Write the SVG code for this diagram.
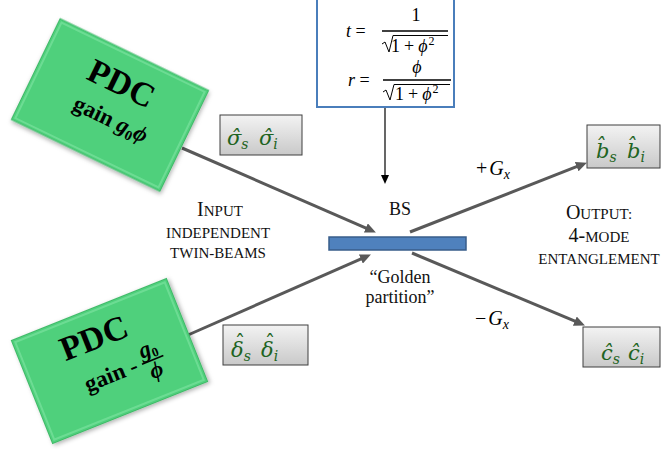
<svg xmlns="http://www.w3.org/2000/svg" width="662" height="449" viewBox="0 0 662 449">
<defs>
<style>
.pdc{fill:#4fd07c;stroke:#3fb868;stroke-width:1}
.pdcT{font-family:"Liberation Serif",serif;font-weight:bold;font-size:34px;fill:#000}
.pdcG{font-family:"Liberation Serif",serif;font-weight:bold;font-size:23px;fill:#000}
.lbl{fill:url(#gray);stroke:#3f3f3f;stroke-width:1}
.op{font-family:"DejaVu Serif",serif;font-style:italic;font-size:21px;fill:#1e6422}
.sub{font-size:14px}
.txt{font-family:"Liberation Serif",serif;font-size:18px;fill:#111}
.sc{font-family:"Liberation Serif",serif;font-size:15px;fill:#111}
.m{font-family:"Liberation Serif","DejaVu Serif",serif;font-size:18px;fill:#000}
.g{font-family:"Liberation Serif","DejaVu Serif",serif;font-size:20px;fill:#000}
.conn{stroke:#595959;stroke-width:3;fill:none}
</style>
<linearGradient id="gray" x1="0" y1="0" x2="0" y2="1">
<stop offset="0" stop-color="#f3f3f3"/>
<stop offset="1" stop-color="#c9c9c9"/>
</linearGradient>
<filter id="sh" x="-20%" y="-20%" width="140%" height="140%">
<feDropShadow dx="1.5" dy="2" stdDeviation="2" flood-color="#000" flood-opacity="0.3"/>
</filter>
<marker id="ah" markerUnits="userSpaceOnUse" markerWidth="11" markerHeight="10" viewBox="0 0 11 10" refX="4" refY="5" orient="auto">
<path d="M0,0 L11,5 L0,10 z" fill="#595959"/>
</marker>
<marker id="ah2" markerUnits="userSpaceOnUse" markerWidth="9" markerHeight="8" viewBox="0 0 9 8" refX="3" refY="4" orient="auto">
<path d="M0,0 L9,4 L0,8 z" fill="#000"/>
</marker>
</defs>
<rect width="662" height="449" fill="#fff"/>

<g id="connectors">
<line class="conn" x1="182" y1="148" x2="369.5" y2="229.6" marker-end="url(#ah)"/>
<line class="conn" x1="188" y1="335" x2="364.5" y2="257.4" marker-end="url(#ah)"/>
<line class="conn" x1="410" y1="232" x2="580.4" y2="165.2" marker-end="url(#ah)"/>
<line class="conn" x1="412" y1="253" x2="578.5" y2="322.7" marker-end="url(#ah)"/>
<line x1="385" y1="108" x2="385" y2="178" stroke="#000" stroke-width="1.2" marker-end="url(#ah2)"/>
</g>

<g id="pdc-top" transform="translate(110,105) rotate(25.8)">
<rect class="pdc" x="-82.5" y="-56" width="165" height="112" filter="url(#sh)"/>
<rect x="-79.5" y="-53" width="159" height="106" fill="none" stroke="#80e4a3" stroke-width="2" opacity="0.6"/>
<text class="pdcT" x="1" y="-13" text-anchor="middle">PDC</text>
<text class="pdcG" x="-33" y="20">gain <tspan font-style="italic">g</tspan><tspan font-size="14" dy="4">0</tspan><tspan font-style="italic" dy="-4">ϕ</tspan></text>
</g>

<g id="pdc-bottom" transform="translate(109.5,361) rotate(-21.8)">
<rect class="pdc" x="-83.5" y="-55.5" width="167" height="111" filter="url(#sh)"/>
<rect x="-80.5" y="-52.5" width="161" height="105" fill="none" stroke="#80e4a3" stroke-width="2" opacity="0.6"/>
<text class="pdcT" x="-6" y="-16" text-anchor="middle">PDC</text>
<text class="pdcG" x="24" y="21" text-anchor="end">gain -</text>
<line x1="29" y1="15" x2="52" y2="15" stroke="#000" stroke-width="1.6"/>
<text class="pdcG" x="40" y="10" text-anchor="middle"><tspan font-style="italic">g</tspan><tspan font-size="13" dy="3">0</tspan></text>
<text class="pdcG" x="40" y="33" text-anchor="middle"><tspan font-style="italic">ϕ</tspan></text>
</g>

<g id="formula">
<rect x="317" y="-3" width="137" height="110" fill="#fff" stroke="#4a7ebb" stroke-width="2"/>
<text class="m" x="346" y="37"><tspan font-style="italic">t</tspan> =</text>
<line x1="382" y1="31" x2="448" y2="31" stroke="#000" stroke-width="1.3"/>
<text class="m" x="416" y="21" text-anchor="middle">1</text>
<path d="M382,44 L385,42 L389,52 L393,35.5 L448,35.5" fill="none" stroke="#000" stroke-width="1"/>
<text class="m" x="391" y="52">1<tspan dx="4">+</tspan><tspan dx="4" font-style="italic">ϕ</tspan><tspan font-size="12" dx="1" dy="-7">2</tspan></text>
<text class="m" x="348" y="86"><tspan font-style="italic">r</tspan> =</text>
<line x1="383" y1="80" x2="451" y2="80" stroke="#000" stroke-width="1.3"/>
<text class="m" x="417" y="73" text-anchor="middle"><tspan font-style="italic">ϕ</tspan></text>
<path d="M383,92 L386,90 L390,100 L394,84.5 L450,84.5" fill="none" stroke="#000" stroke-width="1"/>
<text class="m" x="395" y="100">1<tspan dx="4">+</tspan><tspan dx="4" font-style="italic">ϕ</tspan><tspan font-size="12" dx="1" dy="-7">2</tspan></text>
</g>

<g id="sigma">
<rect class="lbl" x="220" y="115" width="82" height="40"/>
<text class="op" x="227" y="145">σ̂<tspan class="sub" dy="4">s</tspan></text>
<text class="op" x="259" y="145">σ̂<tspan class="sub" dy="4">i</tspan></text>
</g>

<g id="delta">
<rect class="lbl" x="223" y="325" width="85" height="40"/>
<text class="op" x="231" y="357">δ<tspan class="sub" dy="4">s</tspan><tspan x="261" y="357">δ</tspan><tspan class="sub" dy="4">i</tspan><tspan x="240" y="350" text-anchor="middle" font-style="normal">ˆ</tspan><tspan x="270" y="350" text-anchor="middle" font-style="normal">ˆ</tspan></text>
</g>

<g id="bhat">
<rect class="lbl" x="587" y="125" width="73" height="43"/>
<text class="op" x="596" y="158">b̂<tspan class="sub" dy="4">s</tspan></text>
<text class="op" x="627" y="158">b̂<tspan class="sub" dy="4">i</tspan></text>
</g>

<g id="chat">
<rect class="lbl" x="583" y="327" width="77" height="40"/>
<text class="op" x="601" y="360">ĉ<tspan class="sub" dy="4">s</tspan></text>
<text class="op" x="628" y="360">ĉ<tspan class="sub" dy="4">i</tspan></text>
</g>

<g id="bs">
<rect x="329" y="237" width="137" height="13" fill="#4f81bd" stroke="#385d8a" stroke-width="1.5"/>
<text class="txt" x="400" y="215" text-anchor="middle">BS</text>
<text class="txt" x="400" y="283" text-anchor="middle">“Golden</text>
<text class="txt" x="400" y="303" text-anchor="middle">partition”</text>
</g>

<g id="input-label">
<text class="sc" x="220" y="216" text-anchor="middle"><tspan font-size="20">I</tspan>NPUT</text>
<text class="sc" x="218" y="238" text-anchor="middle">INDEPENDENT</text>
<text class="sc" x="218" y="258" text-anchor="middle">TWIN-BEAMS</text>
</g>

<g id="output-label">
<text class="sc" x="599" y="219" text-anchor="middle"><tspan font-size="20">O</tspan>UTPUT:</text>
<text class="sc" x="599" y="242" text-anchor="middle"><tspan font-size="20">4-</tspan>MODE</text>
<text class="sc" x="599" y="264" text-anchor="middle">ENTANGLEMENT</text>
</g>

<g id="gains">
<text class="g" x="476" y="175">+<tspan font-style="italic" dx="2">G</tspan><tspan font-style="italic" font-size="14" dy="4">x</tspan></text>
<text class="g" x="475" y="325">−<tspan font-style="italic" dx="2">G</tspan><tspan font-style="italic" font-size="14" dy="4">x</tspan></text>
</g>
</svg>
